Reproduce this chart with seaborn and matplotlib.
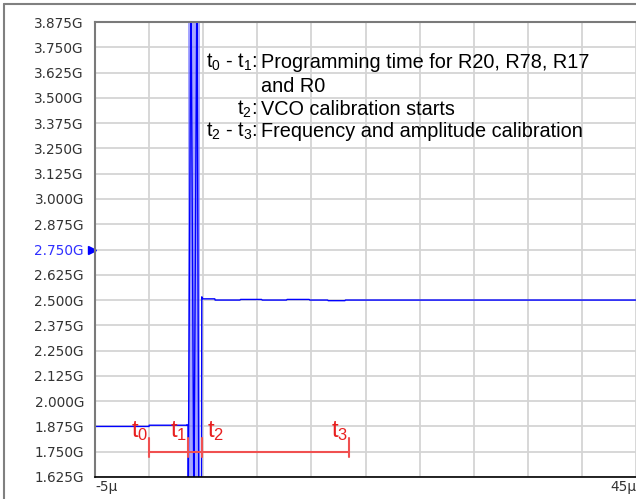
import numpy as np
import pandas as pd
import seaborn as sns
import matplotlib.pyplot as plt
from matplotlib.lines import Line2D
import matplotlib.transforms as mtrans

# trace: time in microseconds, frequency in GHz
t_us = [-5, 0, 0, 3.45, 3.5, 3.55, 3.6,
        3.62, 3.86, 3.88, 4.13, 4.15, 4.41, 4.43, 4.59, 4.61, 4.84,
        4.87, 4.96, 6.07, 6.1, 8.4, 8.45, 10.4, 10.45, 12.7, 12.75,
        14.8, 14.85, 16.5, 16.55, 18.1, 18.15, 45]
f_ghz = [1.875, 1.875, 1.881, 1.881, 1.884, 1.881, 1.881,
         1.55, 4.0, 4.0, 1.55, 1.55, 4.0, 4.0, 1.55, 1.55, 1.55,
         2.516, 2.506, 2.506, 2.500, 2.500, 2.503, 2.503, 2.500, 2.500, 2.503,
         2.503, 2.500, 2.500, 2.497, 2.497, 2.500, 2.500]

# settling burst (many overlapping sweeps)
burst_lo, burst_hi = 3.62, 4.75

# event markers
marks = ["t$_0$", "t$_1$", "t$_2$", "t$_3$"]
mark_t = [0.0, 3.6, 4.9, 18.5]
mark_level = 1.75

y_ticks = np.arange(1.625, 3.876, 0.125)
y_labels = [f"{v:.3f}G" for v in y_ticks]
x_ticks = np.arange(-5, 46, 5)

legend_keys = ["t$_0$ - t$_1$:", "", "t$_2$:", "t$_2$ - t$_3$:"]
legend_text = ["Programming time for R20, R78, R17", "and R0",
               "VCO calibration starts", "Frequency and amplitude calibration"]

sns.set_style("white")
plt.rcParams['font.family'] = ['DejaVu Sans']
plt.rcParams['mathtext.default'] = 'regular'

fig = plt.figure(figsize=(6.36, 4.99), dpi=100)
ax = fig.add_axes([95 / 636, 22 / 499, 541 / 636, 455 / 499])

df = pd.DataFrame({"t": t_us, "f": f_ghz})
ax.axvspan(burst_lo, burst_hi, color="#8080ff", alpha=0.7, lw=0)
sns.lineplot(data=df, x="t", y="f", sort=False, estimator=None,
             color="#0000ff", lw=1.0, ax=ax)

# red timing markers
red = "#f05050"
ax.plot([mark_t[0], mark_t[-1]], [mark_level, mark_level], color=red, lw=1.5)
for i, (lab, tm) in enumerate(zip(marks, mark_t)):
    ax.plot([tm, tm], [mark_level - 0.027, mark_level + 0.067], color=red, lw=1.5)
    if i == 2:
        ax.text(tm + 0.45, mark_level + 0.043, lab, color="#e82020", fontsize=17,
                ha="left", va="bottom", family="Liberation Sans")
    else:
        ax.text(tm - 0.1, mark_level + 0.043, lab, color="#e82020", fontsize=17,
                ha="right", va="bottom", family="Liberation Sans")

# description block
ys = [0.911, 0.859, 0.808, 0.760]
for key, txt, yy in zip(legend_keys, legend_text, ys):
    ax.text(0.2995, yy, key, transform=ax.transAxes, ha="right", va="center",
            fontsize=14.3, family="Liberation Sans", color="black")
    ax.text(0.306, yy, txt, transform=ax.transAxes, ha="left", va="center",
            fontsize=14.3, family="Liberation Sans", color="black")

ax.set_xlim(-5, 45)
ax.set_ylim(1.625, 3.875)
ax.set_yticks(y_ticks)
ax.set_yticklabels(y_labels, fontsize=9.8, color="#333333")
ax.set_xticks(x_ticks)
ax.set_xticklabels(["-5µ"] + [""] * (len(x_ticks) - 2) + ["45µ"],
                   fontsize=9.8, color="#333333")
ax.get_xticklabels()[0].set_ha("left")
ax.get_xticklabels()[-1].set_ha("right")
ax.tick_params(axis="y", length=0, pad=8)
ax.tick_params(axis="x", length=0, pad=2)
for lab in ax.get_yticklabels():
    if lab.get_text() == "2.750G":
        lab.set_color("#3030ff")
ax.grid(True, color="#d4d4d4", lw=1.3)
ax.set_xlabel("")
ax.set_ylabel("")

for s in ["top", "left"]:
    ax.spines[s].set_color("#7a7a7a")
    ax.spines[s].set_linewidth(1.5)
ax.spines["bottom"].set_color("black")
ax.spines["bottom"].set_linewidth(1.2)
ax.spines["right"].set_visible(False)

# cursor marker at 2.750G
tr = mtrans.blended_transform_factory(ax.transAxes, ax.transData)
ax.plot([-0.006], [2.75], marker=">", color="#0000ff", ms=6, transform=tr,
        clip_on=False)

# outer frame
fig.add_artist(Line2D([4 / 636, 4 / 636], [0, 1 - 4 / 499], color="#808080", lw=1.5))
fig.add_artist(Line2D([4 / 636, 1], [1 - 4 / 499, 1 - 4 / 499], color="#808080", lw=1.5))

fig.savefig("out.png", dpi=100)
